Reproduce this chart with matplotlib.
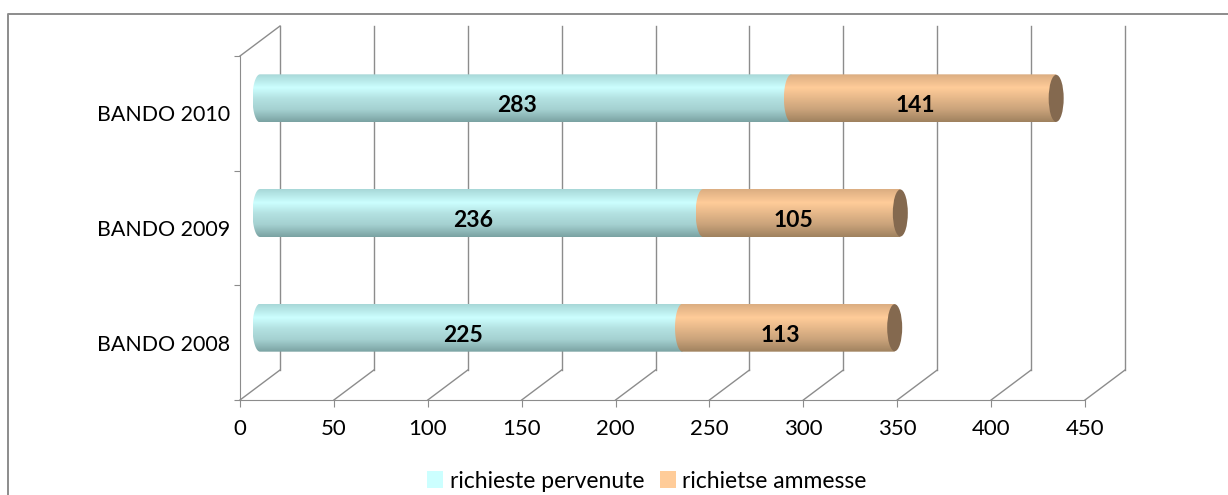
import numpy as np
import matplotlib
matplotlib.use('Agg')
import matplotlib.pyplot as plt
from matplotlib.colors import LinearSegmentedColormap
from matplotlib.lines import Line2D
from matplotlib.patches import Ellipse, Patch, PathPatch
from matplotlib.path import Path

plt.rcParams['font.family'] = ['Lato', 'DejaVu Sans']

categories = ['BANDO 2008', 'BANDO 2009', 'BANDO 2010']
pervenute = [225, 236, 283]
ammesse = [113, 105, 141]
series_names = ['richieste pervenute', 'richietse ammesse']
x_ticks = [0, 50, 100, 150, 200, 250, 300, 350, 400, 450]

W, H = 1228, 495
GRID = '#8c8c8c'
TEAL = ['#a8d8d8', '#ccffff', '#b4e2e2', '#a4d0d0', '#7ba3a3']
ORANGE = ['#dcae82', '#ffcc99', '#e6b88a', '#c9a27a', '#a0825f']
CAP = '#84694f'
STOPS = [0.0, 0.28, 0.5, 0.75, 1.0]

# 3d look: offset of the back wall, in data units
DEPTH_X = 40 / (845 / 450)
DEPTH_Y = 30 / (344 / 3)
BAR_H = 48 / (344 / 3)
CAP_W = 7.5 / (845 / 450)


def make_cmap(colors):
    return LinearSegmentedColormap.from_list('c', list(zip(STOPS, colors)))


def draw_segment(ax, left, right, yc, colors, z):
    # straight body with a rounded left end
    t = np.linspace(np.pi / 2, 3 * np.pi / 2, 30)
    xs = np.concatenate([left + CAP_W * np.cos(t), [right, right, left]])
    ys = np.concatenate([yc + BAR_H / 2 * np.sin(t), [yc - BAR_H / 2, yc + BAR_H / 2, yc + BAR_H / 2]])
    grad = np.linspace(0, 1, 64).reshape(-1, 1)
    im = ax.imshow(grad, cmap=make_cmap(colors), aspect='auto', zorder=z, clip_on=True,
                   extent=(left - CAP_W, right, yc - BAR_H / 2, yc + BAR_H / 2), origin='upper')
    im.set_clip_path(PathPatch(Path(np.column_stack([xs, ys])), transform=ax.transData))


fig = plt.figure(figsize=(W / 100, H / 100), dpi=100)
ax = fig.add_axes([240 / W, 1 - 400 / H, 845 / W, 344 / H])

# outer frame: only left and top are inside the picture
fig.add_artist(Line2D([8 / W, 8 / W, 1], [0, 1 - 14 / H, 1 - 14 / H], transform=fig.transFigure,
                      color='#8c8c8c', lw=1.4))

for x in x_ticks:
    ax.plot([x, x + DEPTH_X], [0, DEPTH_Y], color=GRID, lw=1, clip_on=False, zorder=1)
    ax.plot([x + DEPTH_X, x + DEPTH_X], [DEPTH_Y, 3 + DEPTH_Y], color=GRID, lw=1, clip_on=False, zorder=1)
ax.plot([0, DEPTH_X], [3, 3 + DEPTH_Y], color=GRID, lw=1, clip_on=False, zorder=1)

for i, (a, b) in enumerate(zip(pervenute, ammesse)):
    yc = i + 0.5 + DEPTH_Y / 2
    x0 = DEPTH_X / 2
    draw_segment(ax, x0, x0 + a, yc, TEAL, 3)
    draw_segment(ax, x0 + a, x0 + a + b, yc, ORANGE, 4)
    ax.add_patch(Ellipse((x0 + a + b, yc), 2 * CAP_W, BAR_H * 0.98, fc=CAP, ec='none', zorder=5))
    for left, val in ((x0, a), (x0 + a, b)):
        ax.annotate(str(val), (left + val / 2, yc), xytext=(-6, -5.5), textcoords='offset points',
                    ha='center', va='center', fontsize=16.5, fontweight='bold', color='black', zorder=6)

ax.set_xlim(0, 450)
ax.set_ylim(0, 3)
ax.set_xticks(x_ticks)
ax.set_yticks([0, 1, 2, 3])
ax.set_yticklabels([])
ax.set_yticks([0.5, 1.5, 2.5], minor=True)
ax.set_yticklabels(categories, minor=True)
ax.tick_params(axis='y', which='minor', length=0, pad=7, labelsize=15.4)
ax.tick_params(axis='y', which='major', length=4, color=GRID)
ax.tick_params(axis='x', length=5, color=GRID, pad=9, labelsize=16)
ax.spines['top'].set_visible(False)
ax.spines['right'].set_visible(False)
ax.spines['left'].set_color(GRID)
ax.spines['bottom'].set_color(GRID)
ax.patch.set_visible(False)

handles = [Patch(fc='#ccffff', ec='none'), Patch(fc='#ffcc99', ec='none')]
fig.legend(handles, series_names, ncol=2, frameon=False, fontsize=16.5, loc='center',
           bbox_to_anchor=(647 / W, 1 - 481 / H), handlelength=0.7, handleheight=0.8,
           handletextpad=0.3, columnspacing=0.65, borderpad=0)

fig.savefig('out.png', dpi=100)
